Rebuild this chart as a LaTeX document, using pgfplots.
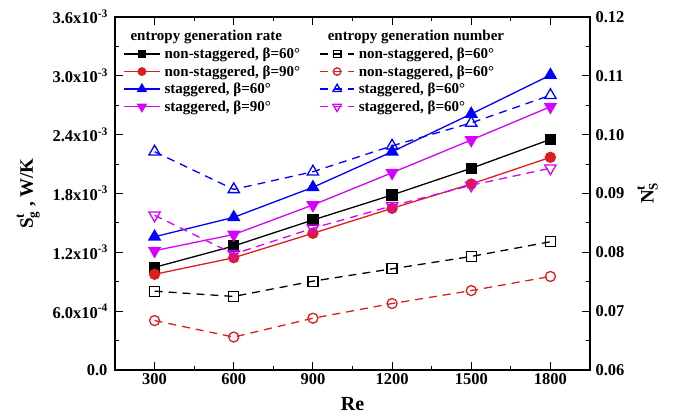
\documentclass[border=0pt]{standalone}
\usepackage{pgfplots}
\pgfplotsset{compat=1.18}
\usepackage{fontspec}
\setmainfont{Liberation Serif}

\definecolor{cblack}{RGB}{0,0,0}
\definecolor{cred}{RGB}{220,30,30}
\definecolor{cblue}{RGB}{0,0,255}
\definecolor{cmag}{RGB}{215,0,255}

% superscript with a fixed size
\newcommand{\sy}[1]{\raisebox{6.5pt}{\fontsize{11.5}{11.5}\selectfont #1}}

\pgfplotsset{
  base/.style={
    scale only axis,
    width=475pt, height=353pt,
    xmin=150, xmax=1950,
    tick align=inside,
    major tick length=8pt, minor tick length=4pt,
    every tick/.style={black, line width=1pt},
    axis line style={line width=1.2pt},
    tick label style={font=\fontsize{16.5}{16.5}\selectfont\bfseries},
    /pgf/number format/assume math mode=true,
    legend style={draw=none, fill=none, font=\fontsize{15}{15}\selectfont\bfseries,
      row sep=3.5pt, column sep=3pt, inner sep=0pt, nodes={inner sep=1pt}},
    legend cell align=left,
  },
  rate/.style={line width=1.3pt, mark options={solid}},
  num/.style={line width=1.3pt, dash pattern=on 8pt off 6pt, mark options={solid, fill=white, line width=1.3pt}},
}

\begin{document}
\begin{tikzpicture}
\path[use as bounding box] (-115pt,-46pt) rectangle (559pt,370pt);

\begin{axis}[
  base,
  ymin=0, ymax=3.6e-3,
  xtick={300,600,900,1200,1500,1800},
  xticklabels={300,600,900,1200,1500,1800},
  minor x tick num=1,
  xtick pos=both,
  ytick={0,0.0006,0.0012,0.0018,0.0024,0.003,0.0036},
  yticklabels={0.0,6.0x10\sy{-4},1.2x10\sy{-3},1.8x10\sy{-3},2.4x10\sy{-3},3.0x10\sy{-3},3.6x10\sy{-3}},
  yticklabel style={xshift=-4pt},
  minor y tick num=1,
  ytick pos=left,
  scaled y ticks=false,
  xlabel={\fontsize{20}{20}\selectfont\bfseries Re},
  xlabel style={yshift=-6pt},
  ylabel={\bfseries\fontsize{19}{19}\selectfont S\rlap{\raisebox{9pt}{\fontsize{13}{13}\selectfont t}}\raisebox{-4pt}{\fontsize{13}{13}\selectfont g}\ , W/K},
  ylabel style={yshift=6pt},
  legend style={at={(0.017,0.965)}, anchor=north west},
  legend image code/.code={\draw[mark repeat=2,mark phase=2,every mark/.append style={scale=0.75}] plot coordinates {(0pt,0pt)(18pt,0pt)(36pt,0pt)};},
]
\addlegendimage{empty legend}
\addlegendentry{\hspace*{-34pt}entropy generation rate}

\addplot[rate, color=cblack, mark=square*, mark size=5pt] coordinates {
  (300,1.047e-3) (600,1.265e-3) (900,1.530e-3) (1200,1.785e-3) (1500,2.057e-3) (1800,2.352e-3)
};
\addlegendentry{non-staggered, β=60°}

\addplot[rate, color=cred, mark=*, mark size=5pt] coordinates {
  (300,0.976e-3) (600,1.145e-3) (900,1.394e-3) (1200,1.649e-3) (1500,1.897e-3) (1800,2.169e-3)
};
\addlegendentry{non-staggered, β=90°}

\addplot[rate, color=cblue, mark=triangle*, mark size=6.5pt] coordinates {
  (300,1.359e-3) (600,1.557e-3) (900,1.863e-3) (1200,2.226e-3) (1500,2.611e-3) (1800,3.008e-3)
};
\addlegendentry{staggered, β=60°}

\addplot[rate, color=cmag, mark=triangle*, mark size=6.5pt, every mark/.append style={rotate=180}] coordinates {
  (300,1.217e-3) (600,1.382e-3) (900,1.683e-3) (1200,2.012e-3) (1500,2.346e-3) (1800,2.685e-3)
};
\addlegendentry{staggered, β=90°}
\end{axis}

\begin{axis}[
  base,
  ymin=0.06, ymax=0.12,
  hide x axis,
  axis y line*=right,
  ytick={0.06,0.07,0.08,0.09,0.10,0.11,0.12},
  yticklabels={0.06,0.07,0.08,0.09,0.10,0.11,0.12},
  yticklabel style={xshift=2pt},
  minor y tick num=1,
  ylabel={\bfseries\fontsize{19}{19}\selectfont N\rlap{\raisebox{9pt}{\fontsize{13}{13}\selectfont t}}\raisebox{-4pt}{\fontsize{13}{13}\selectfont S}},
  ylabel style={yshift=-6pt},
  legend style={at={(0.43,0.965)}, anchor=north west},
  legend image code/.code={\draw[mark repeat=2,mark phase=2,every mark/.append style={scale=0.75}] plot coordinates {(0pt,0pt)(17pt,0pt)(34pt,0pt)};},
]
\addlegendimage{empty legend}
\addlegendentry{\hspace*{-31pt}entropy generation number}

\addplot[num, color=cblack, mark=square, mark size=5pt] coordinates {
  (300,0.0734) (600,0.0725) (900,0.0751) (1200,0.0772) (1500,0.0793) (1800,0.0818)
};
\addlegendentry{non-staggered, β=60°}

\addplot[num, color=cred, mark=o, mark size=5pt] coordinates {
  (300,0.0684) (600,0.0656) (900,0.0688) (1200,0.0713) (1500,0.0735) (1800,0.0759)
};
\addlegendentry{non-staggered, β=60°}

\addplot[num, color=cblue, mark=triangle, mark size=6.5pt] coordinates {
  (300,0.0971) (600,0.0907) (900,0.0937) (1200,0.0981) (1500,0.1020) (1800,0.1067)
};
\addlegendentry{staggered, β=60°}

\addplot[num, color=cmag, mark=triangle, mark size=6.5pt, every mark/.append style={rotate=180}] coordinates {
  (300,0.0863) (600,0.0797) (900,0.0841) (1200,0.0879) (1500,0.0914) (1800,0.0943)
};
\addlegendentry{staggered, β=60°}
\end{axis}
\end{tikzpicture}
\end{document}
